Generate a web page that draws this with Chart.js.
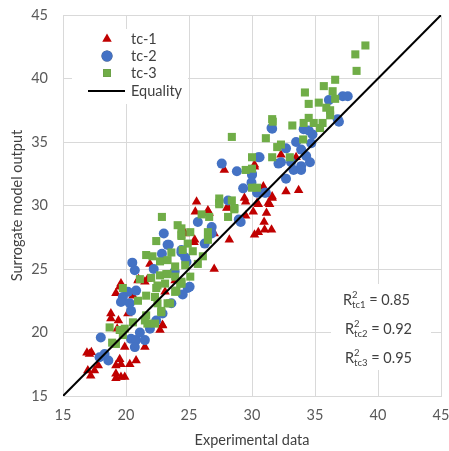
<!DOCTYPE html>
<html>
<head>
<meta charset="utf-8">
<script src="https://cdn.jsdelivr.net/npm/chart.js@4.4.1/dist/chart.umd.min.js"></script>
<style>
  html, body { margin: 0; padding: 0; background: #fff; }
</style>
</head>
<body>
<canvas id="scatterChart" width="449" height="451"></canvas>
<script>
// 축 눈금
var axisTicks = [15, 20, 25, 30, 35, 40, 45];

// tc-1 (실험값, 모델값)
var tc1X = [32.3, 33.5, 30.2, 32.7, 33.7, 30.9, 31.6, 30.4, 31.3, 25.6, 25.5, 28.1, 29.5, 30.5, 31.4, 30.1, 31.15, 30.96, 31.0, 30.5, 30.2, 31.55, 29.5, 28.2, 27.0, 27.0, 25.4, 23.9,
            27.8, 30.2, 29.4, 31.6, 26.5, 28.0, 26.6, 25.45, 24.7, 21.9, 20.95, 21.5, 19.6, 19.2, 23.1, 20.55, 19.5, 21.7, 21.0,
            18.8, 18.8, 19.4, 19.3, 20.15, 22.9, 22.7, 19.9, 21.5, 17.1, 17.25, 19.5, 19.6, 19.2, 20.3, 20.8, 16.97, 17.5, 17.8, 17.2, 19.2, 19.9, 19.6, 19.2, 16.9, 22.9];
var tc1Y = [34.0, 33.8, 33.05, 31.1, 31.2, 31.5, 30.7, 30.2, 30.2, 30.3, 29.5, 29.85, 30.3, 30.1, 30.1, 29.5, 29.4, 28.7, 28.1, 27.9, 27.7, 28.1, 29.2, 27.3, 25.0, 27.8, 27.1, 24.1,
            32.8, 33.2, 30.6, 30.6, 29.6, 29.8, 29.4, 27.3, 27.8, 25.4, 24.1, 24.0, 23.85, 23.1, 23.2, 22.9, 23.6, 24.2, 24.2,
            21.5, 21.1, 20.95, 20.3, 21.5, 20.6, 20.2, 18.85, 18.85, 18.3, 18.45, 17.9, 17.5, 17.4, 17.5, 17.8, 17.0, 17.0, 17.4, 16.6, 16.75, 16.5, 16.5, 16.4, 18.4, 20.55];

// tc-2
var tc2X = [37.2, 37.6, 36.1, 36.8, 36.9, 31.6, 34.1, 34.5, 34.8, 33.5, 34.7, 32.7, 33.9, 30.6, 34.3, 32.1, 33.1, 33.9, 34.6, 33.3, 33.9, 32.7, 30.0, 31.1, 30.4, 31.55,
            28.95, 29.1, 25.7, 26.8, 26.8, 26.25, 24.4, 24.7, 23.86, 24.9, 24.5,
            27.6, 28.8, 30.5, 30.0, 29.96, 29.3, 31.0, 28.1, 32.3,
            23.0, 23.4, 22.85, 20.5, 20.7, 22.2, 24.4, 20.8, 20.15, 19.75, 24.8, 25.05, 23.6, 22.9, 23.3,
            18.0, 17.9, 18.3, 18.6, 20.4, 20.8, 20.7, 21.5, 21.1, 21.9, 20.4, 20.3, 19.6, 22.4];
var tc2Y = [38.6, 38.6, 38.3, 36.8, 36.6, 36.05, 36.0, 35.9, 35.6, 35.0, 34.9, 34.5, 34.4, 33.8, 33.9, 33.3, 33.4, 33.1, 33.4, 32.8, 32.8, 32.1, 32.5, 31.0, 31.0, 36.1,
            28.9, 28.7, 28.7, 28.3, 27.8, 27.0, 26.3, 25.9, 24.8, 23.5, 23.0,
            33.3, 32.7, 33.8, 32.4, 31.8, 31.35, 31.0, 30.4, 33.4,
            27.8, 26.9, 26.2, 25.5, 24.9, 25.0, 26.5, 23.3, 23.2, 22.8, 25.55, 23.6, 22.3, 21.5, 26.9,
            19.6, 18.05, 18.3, 17.8, 19.5, 19.4, 18.85, 19.4, 20.0, 20.3, 21.7, 22.3, 22.4, 20.95];

// tc-3
var tc3X = [39.0, 38.2, 38.3, 36.6, 35.7, 36.4, 34.2, 34.5, 35.3, 36.6, 35.9, 36.2, 36.2, 34.5, 31.6,
            31.65, 33.2, 34.1, 34.9, 35.6, 35.4, 31.1, 34.06, 32.3, 32.0, 30.0, 31.6, 33.0, 30.0, 30.0, 30.4,
            26.0, 26.6, 28.1, 27.4, 28.6, 24.1, 25.1, 24.4, 26.5, 26.5, 24.9, 25.3, 24.5, 26.1, 24.7, 25.7, 25.1, 24.3, 24.0,
            28.4, 29.5, 27.4, 27.4, 28.4, 28.6,
            22.85, 22.4, 21.6, 22.1, 22.7, 23.6, 23.3, 23.9, 21.1, 22.0, 22.7, 23.2, 23.9, 19.75, 22.4, 23.1, 24.4, 23.9, 21.6, 22.3, 24.4, 24.4, 23.3, 24.4, 22.5, 23.3, 22.8,
            18.7, 19.5, 19.9, 18.9, 19.2, 19.75, 20.55, 21.5, 21.7, 22.3, 21.6, 22.8, 23.5, 22.5, 20.95];
var tc3Y = [42.6, 41.9, 40.6, 39.9, 39.4, 39.0, 38.9, 38.0, 38.1, 38.4, 37.7, 37.5, 37.1, 36.9, 36.8,
            36.6, 36.3, 36.5, 36.5, 36.5, 36.1, 35.3, 35.2, 34.8, 34.6, 33.8, 33.8, 33.8, 32.9, 31.4, 31.4,
            29.3, 29.1, 29.1, 30.2, 29.8, 28.45, 27.9, 27.6, 27.9, 27.3, 27.0, 26.4, 26.5, 26.0, 25.3, 25.4, 24.4, 23.85, 23.3,
            35.4, 32.8, 30.55, 30.1, 30.4, 29.7,
            29.1, 27.2, 26.1, 26.0, 25.6, 26.3, 25.7, 25.2, 24.2, 24.3, 24.5, 24.6, 24.4, 23.5, 23.5, 23.85, 23.85, 23.2, 22.9, 22.8, 28.2, 27.7, 24.6, 24.0, 23.7, 22.3, 21.7,
            20.4, 20.2, 20.3, 19.2, 19.1, 19.8, 20.8, 20.95, 20.7, 20.7, 21.35, 21.6, 22.3, 22.3, 22.5];

// 1:1 선
var equalityX = [15, 45];
var equalityY = [15, 45];

// 결정계수
var r2Labels = ['tc1', 'tc2', 'tc3'];
var r2Values = ['0.85', '0.92', '0.95'];

var FONT = 'Lato, "Open Sans", sans-serif';
var TEXT = '#404040';
var TICK = '#595959';

function toPoints(xs, ys) {
    return xs.map(function (x, i) { return { x: x, y: ys[i] }; });
}

// 범례와 R² 표시
var overlayPlugin = {
    id: 'overlay',
    afterDraw: function (chart) {
        var ctx = chart.ctx;
        ctx.save();
        // 범례 박스
        ctx.fillStyle = '#fff';
        ctx.fillRect(72, 29, 116, 75);
        ctx.font = '14.5px ' + FONT;
        ctx.textBaseline = 'middle';
        ctx.textAlign = 'left';
        var rows = [
            { label: 'tc-1', y: 39, style: 'triangle', color: '#C00000' },
            { label: 'tc-2', y: 56, style: 'circle', color: '#4472C4' },
            { label: 'tc-3', y: 73, style: 'rect', color: '#70AD47' },
            { label: 'Equality', y: 91, style: 'line', color: '#000' }
        ];
        rows.forEach(function (r) {
            if (r.style === 'line') {
                ctx.strokeStyle = r.color;
                ctx.lineWidth = 2;
                ctx.beginPath();
                ctx.moveTo(88, r.y);
                ctx.lineTo(125, r.y);
                ctx.stroke();
            } else {
                Chart.helpers.drawPoint(ctx, { pointStyle: r.style, radius: 5.5, borderWidth: 0, rotation: 0 }, 107, r.y);
                ctx.fillStyle = r.color;
                ctx.fill();
            }
            ctx.fillStyle = TEXT;
            ctx.fillText(r.label, 131, r.y);
        });

        // R² 박스
        ctx.fillStyle = '#fff';
        ctx.fillRect(331, 284, 100, 86);
        var ys = [300, 329, 358];
        r2Labels.forEach(function (lab, i) {
            var x = i === 0 ? 343 : 345;
            var y = ys[i];
            ctx.fillStyle = TEXT;
            ctx.font = '14.5px ' + FONT;
            ctx.fillText('R', x, y);
            var w = ctx.measureText('R').width;
            ctx.font = '9.5px ' + FONT;
            ctx.fillText('2', x + w, y - 5);
            ctx.fillText(lab, x + w, y + 5);
            var w2 = ctx.measureText(lab).width;
            ctx.font = '14.5px ' + FONT;
            ctx.fillText(' = ' + r2Values[i], x + w + w2, y);
        });
        ctx.restore();
    }
};

var ctx1 = document.getElementById('scatterChart').getContext('2d');
var scatterChart = new Chart(ctx1, {
    type: 'scatter',
    data: {
        datasets: [{
            label: 'tc-1',
            data: toPoints(tc1X, tc1Y),
            pointStyle: 'triangle',
            pointRadius: 5.5,
            backgroundColor: '#C00000',
            borderWidth: 0,
            order: 4
        }, {
            label: 'tc-2',
            data: toPoints(tc2X, tc2Y),
            pointStyle: 'circle',
            pointRadius: 5,
            backgroundColor: '#4472C4',
            borderWidth: 0,
            order: 3
        }, {
            label: 'tc-3',
            data: toPoints(tc3X, tc3Y),
            pointStyle: 'rect',
            pointRadius: 5.7,
            backgroundColor: '#70AD47',
            borderWidth: 0,
            order: 2
        }, {
            label: 'Equality',
            data: toPoints(equalityX, equalityY),
            showLine: true,
            pointRadius: 0,
            borderColor: '#000',
            borderWidth: 2,
            order: 1
        }]
    },
    options: {
        responsive: false,
        animation: false,
        layout: { padding: { top: 15, right: 8, left: 0, bottom: 0 } },
        plugins: {
            legend: { display: false },
            tooltip: { enabled: false }
        },
        scales: {
            x: {
                type: 'linear',
                min: 15, max: 45,
                afterBuildTicks: function (s) { s.ticks = axisTicks.map(function (v) { return { value: v }; }); },
                afterFit: function (s) { s.height = 55; s.paddingLeft = 0; s.paddingRight = 0; },
                grid: { color: '#D9D9D9', drawTicks: false },
                border: { color: '#D9D9D9' },
                ticks: { color: TICK, font: { family: FONT, size: 14.5 }, padding: 11, maxRotation: 0 },
                title: { display: true, text: 'Experimental data', color: TEXT, font: { family: FONT, size: 14.5 }, padding: { top: 0, bottom: 2 } }
            },
            y: {
                type: 'linear',
                min: 15, max: 45,
                afterBuildTicks: function (s) { s.ticks = axisTicks.map(function (v) { return { value: v }; }); },
                afterFit: function (s) { s.width = 63; s.paddingTop = 0; s.paddingBottom = 0; },
                grid: { color: '#D9D9D9', drawTicks: false },
                border: { color: '#D9D9D9' },
                ticks: { color: TICK, font: { family: FONT, size: 14.5 }, padding: 15 },
                title: { display: true, text: 'Surrogate model output', color: TEXT, font: { family: FONT, size: 14.5 }, padding: { top: 9, bottom: 0 } }
            }
        }
    },
    plugins: [overlayPlugin]
});
</script>
</body>
</html>
